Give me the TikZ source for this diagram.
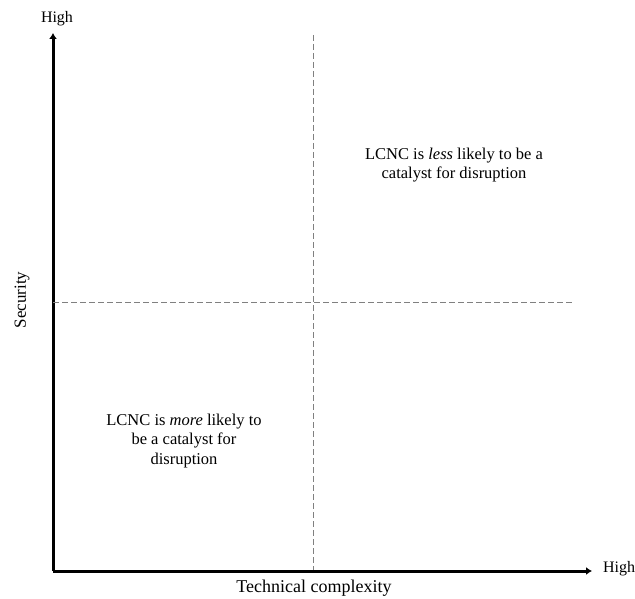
\documentclass[tikz,border=0pt]{standalone}
\usepackage{fontspec}
\setmainfont{Liberation Serif}
\usetikzlibrary{arrows.meta}
\begin{document}
\begin{tikzpicture}[x=1pt,y=-1pt,
  axis/.style={line width=3pt,-{Latex[length=6pt,width=8pt]}},
  grid/.style={gray,line width=0.8pt,dash pattern=on 6pt off 3pt},
  lbl/.style={inner sep=0pt},
  quad/.style={lbl,align=center,font=\fontsize{16.5}{19.5}\selectfont}]
  \useasboundingbox (0,0) rectangle (635,599);
  % axes
  \coordinate (o) at (53,571);
  \coordinate (ytop) at (53,33);
  \coordinate (xend) at (592,571);
  \draw[axis] (o) -- (ytop);
  \draw[axis] (o) -- (xend);
  % quadrant dividers
  \coordinate (vtop) at (313.5,35);
  \coordinate (vbot) at (313.5,570);
  \coordinate (hl) at (53,302.5);
  \coordinate (hr) at (573,302.5);
  \draw[grid] (vtop) -- (vbot);
  \draw[grid] (hl) -- (hr);
  % axis labels
  \node[lbl,font=\fontsize{16}{19}\selectfont] (yhigh) at (57,19) {High};
  \node[lbl,font=\fontsize{16}{19}\selectfont] (xhigh) at (619,569) {High};
  \node[lbl,rotate=90,font=\fontsize{17}{20}\selectfont] (ylab) at (22,300) {Security};
  \node[lbl,font=\fontsize{18}{21}\selectfont] (xlab) at (314,588.5) {Technical complexity};
  % quadrant notes
  \node[quad] (upper) at (454,165) {LCNC is \textit{less} likely to be a\\catalyst for disruption};
  \node[quad] (lower) at (184,441) {LCNC is \textit{more} likely to\\be a catalyst for\\disruption};
\end{tikzpicture}
\end{document}
